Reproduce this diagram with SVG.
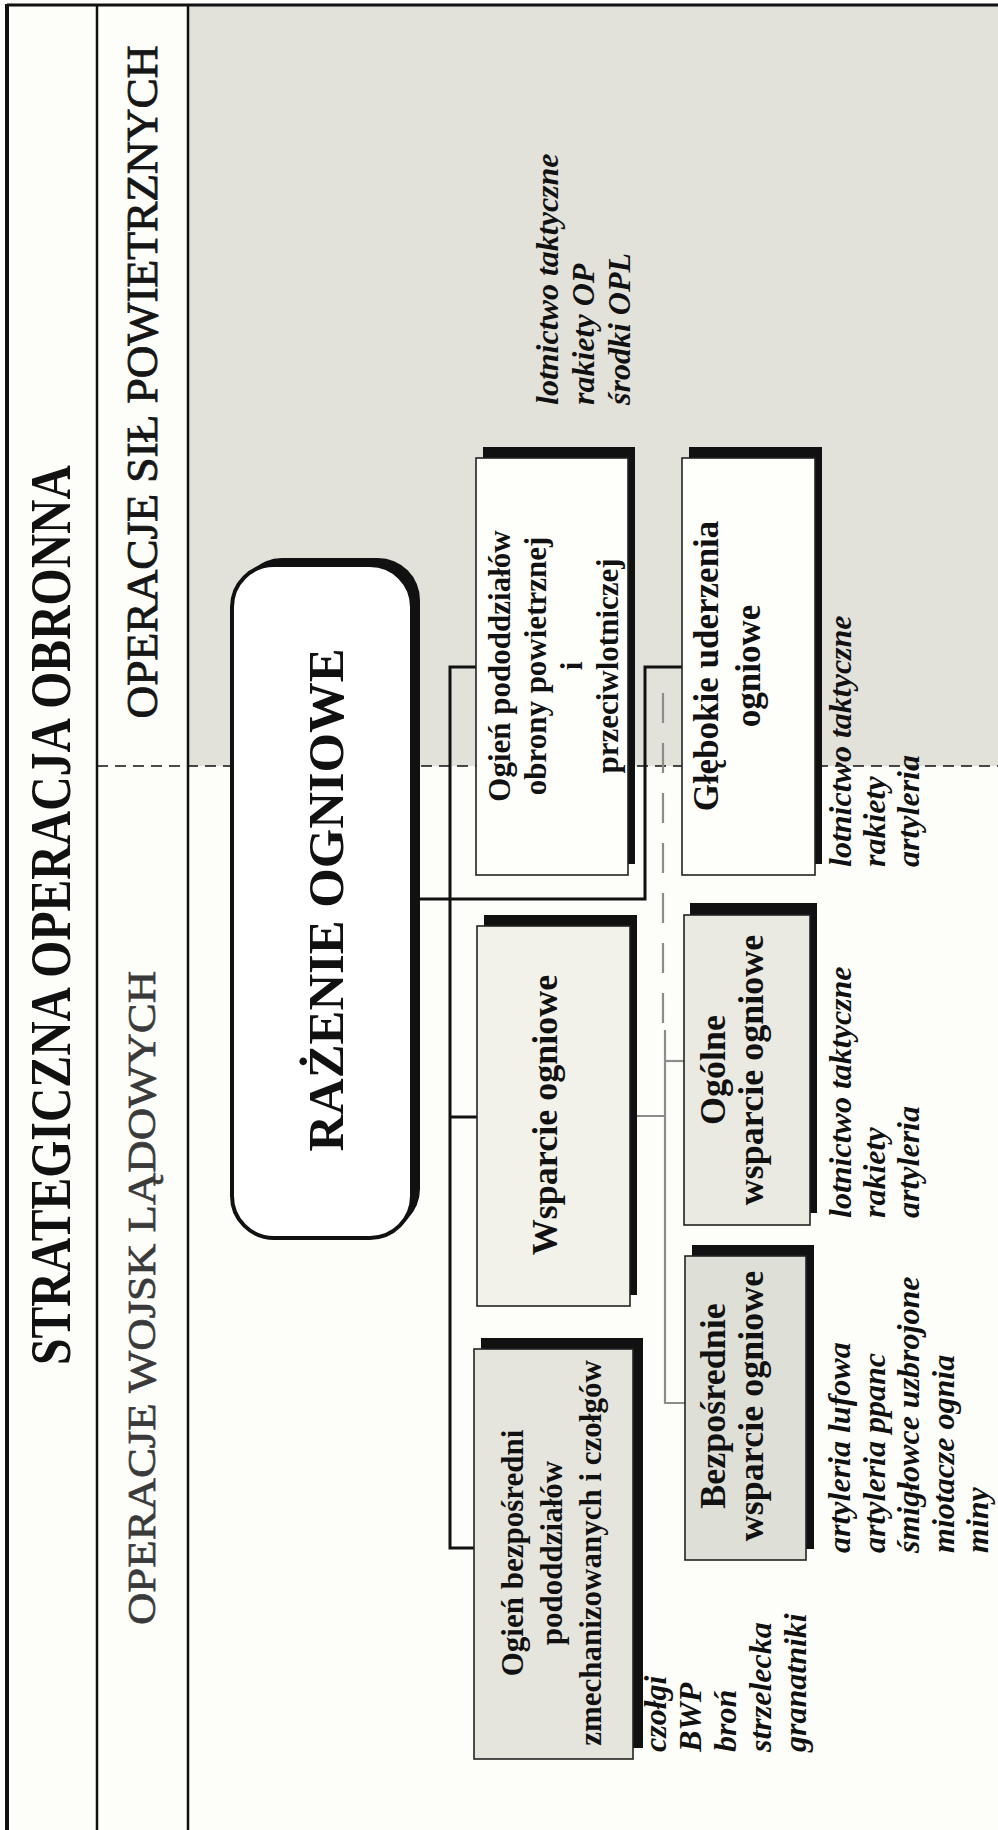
<svg xmlns="http://www.w3.org/2000/svg" width="998" height="1830" viewBox="0 0 998 1830">
<style>
.frame{stroke:#111;fill:none}
.sh{fill:#111}
.bx{stroke:#222;stroke-width:1.6}
.bt{font-family:"Liberation Serif","Times New Roman",serif;font-weight:bold;fill:#111;text-anchor:middle}
.it{font-family:"Liberation Serif","Times New Roman",serif;font-weight:bold;font-style:italic;fill:#111;font-size:32px}
.hd{font-family:"Liberation Serif","Times New Roman",serif;text-anchor:middle}
.con{fill:none;stroke:#111;stroke-width:3}
.gcon{fill:none;stroke:#8c8c8c;stroke-width:2.2}
</style>
<rect x="0" y="0" width="998" height="1830" fill="#fdfdf9"/>
<rect x="188" y="5" width="810" height="761" fill="#e2e2da"/>
<g id="frame">
<line class="frame" x1="7" y1="5" x2="998" y2="5" stroke-width="3"/>
<line class="frame" x1="7" y1="4" x2="7" y2="1830" stroke-width="4"/>
<line class="frame" x1="97" y1="5" x2="97" y2="1830" stroke-width="2.5"/>
<line class="frame" x1="188" y1="5" x2="188" y2="1830" stroke-width="2.5"/>
<line x1="97" y1="766" x2="998" y2="766" stroke="#111" stroke-width="1.6" stroke-dasharray="11 7"/>
</g>
<g id="headers" transform="rotate(-90)">
<text class="hd" x="-915" y="70" font-size="56" font-weight="bold" fill="#111" textLength="900" lengthAdjust="spacingAndGlyphs">STRATEGICZNA OPERACJA OBRONNA</text>
<text class="hd" x="-382" y="157" font-size="44" fill="#161616" stroke="#161616" stroke-width="0.9" textLength="673" lengthAdjust="spacingAndGlyphs">OPERACJE SIŁ POWIETRZNYCH</text>
<text class="hd" x="-1298" y="155" font-size="41" fill="#3a3a3a" stroke="#3a3a3a" stroke-width="0.7" textLength="654" lengthAdjust="spacingAndGlyphs">OPERACJE WOJSK LĄDOWYCH</text>
</g>
<g id="connectors">
<path class="gcon" d="M663,693 V1030" stroke-dasharray="30 20" stroke-width="2.6"/>
<path class="con" d="M420,899 H645 V667 H682"/>
<path class="con" d="M476,667 H450 V1548 H474"/>
<path class="con" d="M450,1117 H477"/>
<path class="gcon" d="M630,1116 H665"/>
<path class="gcon" d="M665,1030 V1403 H685"/>
<path class="gcon" d="M665,1061 H684"/>
</g>
<g id="razenie">
<rect class="sh" x="240" y="558" width="180" height="673" rx="42"/>
<rect x="232" y="565" width="180" height="673" rx="42" fill="#ffffff" stroke="#111" stroke-width="4"/>
<text class="bt" transform="rotate(-90)" x="-900" y="343" font-size="51" textLength="503" lengthAdjust="spacingAndGlyphs">RAŻENIE OGNIOWE</text>
</g>
<g id="n_opl">
<rect class="sh" x="483" y="447" width="152" height="417"/>
<rect class="bx" x="476" y="458" width="152" height="417" fill="#fefefb"/>
<g transform="rotate(-90)" class="bt" font-size="31">
<text x="-666" y="510">Ogień pododdziałów</text>
<text x="-666" y="546">obrony powietrznej</text>
<text x="-666" y="582">i</text>
<text x="-666" y="618">przeciwlotniczej</text>
</g>
</g>
<g id="n_gleb">
<rect class="sh" x="689" y="447" width="133" height="417"/>
<rect class="bx" x="682" y="458" width="133" height="417" fill="#fefefb"/>
<g transform="rotate(-90)" class="bt" font-size="35">
<text x="-666" y="718">Głębokie uderzenia</text>
<text x="-666" y="760">ogniowe</text>
</g>
</g>
<g id="n_wsp">
<rect class="sh" x="484" y="915" width="153" height="380"/>
<rect class="bx" x="477" y="926" width="153" height="380" fill="#f2f2ea"/>
<text class="bt" transform="rotate(-90)" x="-1115" y="557" font-size="36">Wsparcie ogniowe</text>
</g>
<g id="n_ogol">
<rect class="sh" x="690" y="903" width="127" height="310"/>
<rect class="bx" x="684" y="915" width="126" height="310" fill="#eaeae2"/>
<g transform="rotate(-90)" class="bt" font-size="36">
<text x="-1070" y="725">Ogólne</text>
<text x="-1070" y="763">wsparcie ogniowe</text>
</g>
</g>
<g id="n_bezp">
<rect class="sh" x="692" y="1245" width="122" height="304"/>
<rect class="bx" x="685" y="1256" width="121" height="304" fill="#dedfd6"/>
<g transform="rotate(-90)" class="bt" font-size="36">
<text x="-1406" y="725">Bezpośrednie</text>
<text x="-1406" y="763">wsparcie ogniowe</text>
</g>
</g>
<g id="n_ogien">
<rect class="sh" x="481" y="1338" width="162" height="410"/>
<rect class="bx" x="474" y="1349" width="159" height="410" fill="#e5e5dd"/>
<g transform="rotate(-90)" class="bt" font-size="31">
<text x="-1553" y="523">Ogień bezpośredni</text>
<text x="-1553" y="562">pododdziałów</text>
<text x="-1553" y="601">zmechanizowanych i czołgów</text>
</g>
</g>
<g id="labels" transform="rotate(-90)" class="it">
<g id="lab_opl">
<text x="-405" y="558">lotnictwo taktyczne</text>
<text x="-405" y="594">rakiety OP</text>
<text x="-405" y="630">środki OPL</text>
</g>
<g id="lab_gleb">
<text x="-867" y="851">lotnictwo taktyczne</text>
<text x="-867" y="885">rakiety</text>
<text x="-867" y="919">artyleria</text>
</g>
<g id="lab_ogol">
<text x="-1218" y="851">lotnictwo taktyczne</text>
<text x="-1218" y="885">rakiety</text>
<text x="-1218" y="919">artyleria</text>
</g>
<g id="lab_bezp">
<text x="-1553" y="850">artyleria lufowa</text>
<text x="-1553" y="884.5">artyleria ppanc</text>
<text x="-1553" y="919">śmigłowce uzbrojone</text>
<text x="-1553" y="953.5">miotacze ognia</text>
<text x="-1553" y="988">miny</text>
</g>
<g id="lab_ogien">
<text x="-1752" y="666">czołgi</text>
<text x="-1752" y="701">BWP</text>
<text x="-1752" y="736">broń</text>
<text x="-1752" y="771">strzelecka</text>
<text x="-1752" y="806">granatniki</text>
</g>
</g>
</svg>
